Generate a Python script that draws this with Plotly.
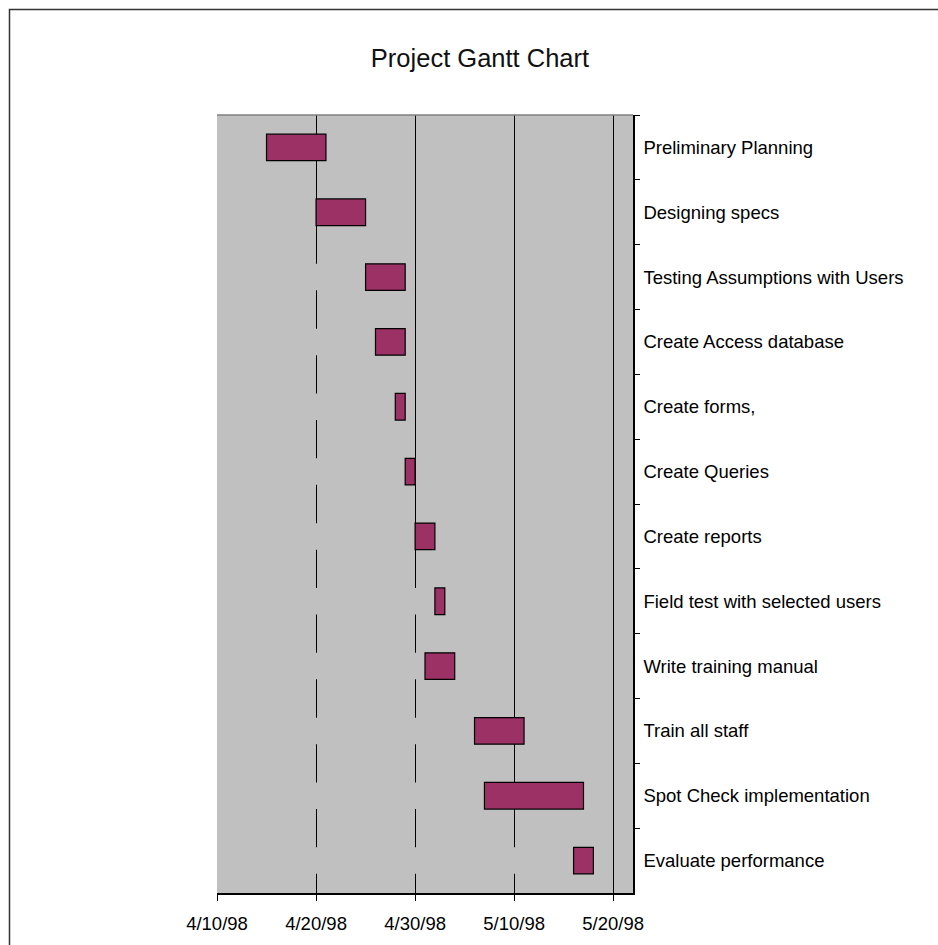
import plotly.graph_objects as go
import pandas as pd

tasks = [
    "Preliminary Planning",
    "Designing specs",
    "Testing Assumptions with Users",
    "Create Access database",
    "Create forms,",
    "Create Queries",
    "Create reports",
    "Field test with selected users",
    "Write training manual",
    "Train all staff",
    "Spot Check implementation",
    "Evaluate performance",
]
start_dates = ["1998-04-15", "1998-04-20", "1998-04-25", "1998-04-26", "1998-04-28", "1998-04-29",
               "1998-04-30", "1998-05-02", "1998-05-01", "1998-05-06", "1998-05-07", "1998-05-16"]
end_dates = ["1998-04-21", "1998-04-25", "1998-04-29", "1998-04-29", "1998-04-29", "1998-04-30",
             "1998-05-02", "1998-05-03", "1998-05-04", "1998-05-11", "1998-05-17", "1998-05-18"]
axis_start = "1998-04-10"
axis_end = "1998-05-22"
tick_dates = ["1998-04-10", "1998-04-20", "1998-04-30", "1998-05-10", "1998-05-20"]

s = pd.to_datetime(start_dates)
e = pd.to_datetime(end_dates)
a0 = pd.Timestamp(axis_start)
ms = 1000 * 60 * 60 * 24
lead = [(d - a0).days * ms for d in s]
dur = [(b - d).days * ms for d, b in zip(s, e)]

FONT = "Liberation Sans, Arial, sans-serif"
BG = "#C0C0C0"

fig = go.Figure()
fig.add_trace(go.Bar(
    y=tasks, x=lead, base=[axis_start] * len(tasks), orientation="h",
    marker=dict(color=BG, line=dict(width=0)), width=0.41, showlegend=False, hoverinfo="skip"))
fig.add_trace(go.Bar(
    y=tasks, x=dur, base=start_dates, orientation="h",
    marker=dict(color="#9B3164", line=dict(color="black", width=1.2)), width=0.41, showlegend=False))

W, H = 938, 945
L, R, T, B = 217, 633, 115, 893
pw, ph = R - L, B - T
def px(x):
    return (x - L) / pw
def py(y):
    return (B - y) / ph

fig.update_layout(
    width=W, height=H,
    margin=dict(l=L, r=W - R, t=T, b=H - B, pad=0),
    paper_bgcolor="white", plot_bgcolor=BG,
    barmode="overlay",
    font=dict(family=FONT, color="black"),
    title=dict(text="Project Gantt Chart", font=dict(size=25.5, family=FONT, color="#111"),
               x=480 / W, xanchor="center", xref="container",
               y=1 - 58 / H, yanchor="middle", yref="container"),
    xaxis=dict(type="date", range=[axis_start, axis_end], tickvals=tick_dates,
               tickformat="%-m/%-d/%y", showgrid=True, gridcolor="black", gridwidth=1.2,
               ticks="outside", ticklen=6, tickcolor="black", tickwidth=1.2,
               showline=True, linecolor="black", linewidth=1.5,
               tickfont=dict(size=18.5, family=FONT), ticklabelstandoff=7, zeroline=False),
    yaxis=dict(type="category", side="right", autorange="reversed", tickson="boundaries",
               ticks="outside", ticklen=5, tickcolor="black", tickwidth=1.2,
               showline=True, linecolor="black", linewidth=1.5, showgrid=False,
               tickfont=dict(size=18.5, family=FONT), ticklabelstandoff=5),
    shapes=[
        dict(type="line", xref="paper", yref="paper", x0=0, x1=1, y0=1, y1=1,
             line=dict(color="#808080", width=1.5)),
        dict(type="rect", xref="paper", yref="paper", x0=px(9.5), x1=px(960), y0=py(9.5), y1=py(960),
             line=dict(color="#333", width=1.5), fillcolor="rgba(0,0,0,0)"),
    ],
)

fig.write_html("out.html")
